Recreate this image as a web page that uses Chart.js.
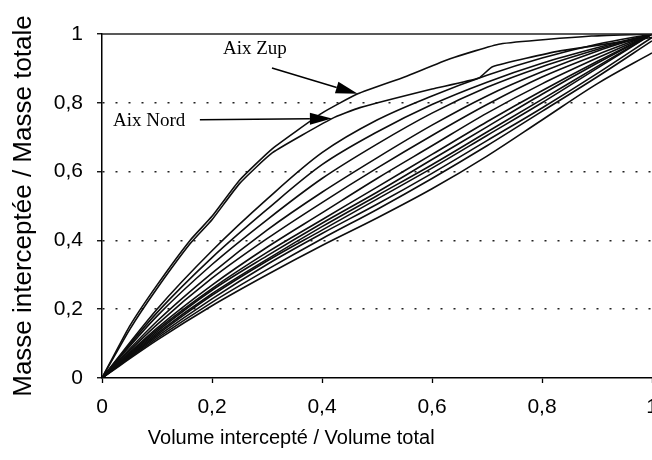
<!DOCTYPE html>
<html><head><meta charset="utf-8">
<script src="https://cdn.jsdelivr.net/npm/chart.js@4.4.1/dist/chart.umd.min.js"></script>
<style>
html,body{margin:0;padding:0;background:#fff;overflow:hidden;width:652px;height:460px}
#wrap{position:absolute;left:0;top:0;width:664px;height:460px}
</style>
</head><body><div id="wrap"><canvas id="c"></canvas></div>
<script>
// ---- data ----
const xTickValues = [0, 0.2, 0.4, 0.6, 0.8, 1];
const xTickLabels = ['0', '0,2', '0,4', '0,6', '0,8', '1'];
const yTickValues = [0, 0.2, 0.4, 0.6, 0.8, 1];
const yTickLabels = ['0', '0,2', '0,4', '0,6', '0,8', '1'];
const xTitle = 'Volume intercepté / Volume total';
const yTitle = 'Masse interceptée / Masse totale';

const zupX  = [0, 0.05, 0.1, 0.16, 0.2, 0.25, 0.31, 0.4, 0.465, 0.55, 0.633, 0.724, 0.89, 1];
const zupY  = [0, 0.15, 0.27, 0.40, 0.47, 0.575, 0.667, 0.77, 0.826, 0.875, 0.928, 0.971, 0.994, 1];
const nordX = [0, 0.05, 0.1, 0.16, 0.2, 0.25, 0.31, 0.418, 0.469, 0.6, 0.685, 0.71, 0.833, 1];
const nordY = [0, 0.14, 0.26, 0.39, 0.46, 0.565, 0.655, 0.754, 0.786, 0.84, 0.872, 0.905, 0.951, 0.99];

const xGrid = [0, 0.1, 0.2, 0.3, 0.4, 0.5, 0.6, 0.7, 0.8, 0.9, 1];
const curveB1 = [0, 0.20, 0.37, 0.52, 0.655, 0.75, 0.82, 0.88, 0.93, 0.97, 1];
const curveB2 = [0, 0.19, 0.35, 0.49, 0.62, 0.715, 0.795, 0.86, 0.915, 0.96, 1];
const curveB3 = [0, 0.18, 0.33, 0.46, 0.58, 0.68, 0.77, 0.845, 0.905, 0.955, 1];
const curveC1 = [0, 0.165, 0.305, 0.43, 0.54, 0.64, 0.735, 0.82, 0.89, 0.95, 1];
const curveC2 = [0, 0.155, 0.29, 0.405, 0.51, 0.61, 0.705, 0.795, 0.875, 0.94, 1];
const curveC3 = [0, 0.145, 0.27, 0.38, 0.48, 0.58, 0.675, 0.77, 0.855, 0.93, 1];
const curveC4 = [0, 0.14, 0.26, 0.365, 0.46, 0.555, 0.65, 0.745, 0.835, 0.92, 1];
const curveD1 = [0, 0.135, 0.255, 0.355, 0.45, 0.54, 0.635, 0.73, 0.825, 0.915, 1];
const curveD2 = [0, 0.13, 0.245, 0.345, 0.44, 0.53, 0.62, 0.715, 0.81, 0.905, 1];
const curveD3 = [0, 0.125, 0.24, 0.34, 0.43, 0.52, 0.61, 0.705, 0.80, 0.90, 1];
const curveD4 = [0, 0.12, 0.23, 0.33, 0.42, 0.505, 0.595, 0.69, 0.785, 0.885, 0.99];
const curveD5 = [0, 0.115, 0.22, 0.315, 0.405, 0.49, 0.58, 0.675, 0.775, 0.875, 0.98];
const curveD6 = [0, 0.11, 0.21, 0.30, 0.385, 0.465, 0.55, 0.645, 0.75, 0.855, 0.945];

const noteLabels = ['Aix Zup', 'Aix Nord'];
// annotation anchors in data units: [textX, textY, arrowFromX, arrowFromY, arrowToX, arrowToY]
const noteAnchors = [
  [0.22, 0.955, 0.309, 0.901, 0.465, 0.826],
  [0.02, 0.748, 0.178, 0.751, 0.418, 0.754]
];

// ---- build ----
const regular = [curveB1, curveB2, curveB3, curveC1, curveC2, curveC3, curveC4,
                 curveD1, curveD2, curveD3, curveD4, curveD5, curveD6];
const lineStyle = { borderColor: '#0d0d0d', borderWidth: 1.6, pointRadius: 0, showLine: true, fill: false };
const datasets = [];
datasets.push(Object.assign({ label: 'Aix Zup', data: zupX.map((x, i) => ({ x, y: zupY[i] })), tension: 0.15 }, lineStyle));
datasets.push(Object.assign({ label: 'Aix Nord', data: nordX.map((x, i) => ({ x, y: nordY[i] })), tension: 0.15 }, lineStyle));
regular.forEach((ys, k) => {
  datasets.push(Object.assign({ label: 'c' + k, data: xGrid.map((x, i) => ({ x, y: ys[i] })), cubicInterpolationMode: 'monotone' }, lineStyle));
});

const FONT = 'Liberation Sans, Arial, sans-serif';

const decor = {
  id: 'decor',
  afterDraw(chart) {
    const { ctx, chartArea, scales: { x, y } } = chart;
    ctx.save();
    // top frame line at y = 1
    ctx.strokeStyle = '#222';
    ctx.lineWidth = 1.5;
    ctx.beginPath();
    ctx.moveTo(chartArea.left, y.getPixelForValue(1));
    ctx.lineTo(chartArea.right, y.getPixelForValue(1));
    ctx.stroke();
    // x title
    ctx.fillStyle = '#000';
    ctx.font = '20px ' + FONT;
    ctx.textAlign = 'center';
    ctx.textBaseline = 'middle';
    ctx.fillText(xTitle, x.getPixelForValue(0.344), chartArea.bottom + 60);
    // annotations
    ctx.font = '19px "Liberation Serif", "Times New Roman", serif';
    ctx.textAlign = 'left';
    noteLabels.forEach((lab, i) => {
      const a = noteAnchors[i];
      ctx.fillStyle = '#000';
      ctx.fillText(lab, x.getPixelForValue(a[0]), y.getPixelForValue(a[1]));
      const x1 = x.getPixelForValue(a[2]), y1 = y.getPixelForValue(a[3]);
      const x2 = x.getPixelForValue(a[4]), y2 = y.getPixelForValue(a[5]);
      const ang = Math.atan2(y2 - y1, x2 - x1);
      const hl = 22, hw = 6;
      const bx = x2 - hl * Math.cos(ang), by = y2 - hl * Math.sin(ang);
      ctx.strokeStyle = '#000';
      ctx.lineWidth = 1.5;
      ctx.beginPath();
      ctx.moveTo(x1, y1);
      ctx.lineTo(bx, by);
      ctx.stroke();
      ctx.beginPath();
      ctx.moveTo(x2, y2);
      ctx.lineTo(bx + hw * Math.sin(ang), by - hw * Math.cos(ang));
      ctx.lineTo(bx - hw * Math.sin(ang), by + hw * Math.cos(ang));
      ctx.closePath();
      ctx.fill();
    });
    ctx.restore();
  }
};

new Chart(document.getElementById('c'), {
  type: 'scatter',
  data: { datasets },
  options: {
    responsive: true,
    maintainAspectRatio: false,
    animation: false,
    layout: { padding: { left: 0, right: 12, top: 34, bottom: 0 } },
    plugins: { legend: { display: false }, tooltip: { enabled: false } },
    scales: {
      x: {
        type: 'linear', min: 0, max: 1, position: 'bottom',
        afterBuildTicks: s => { s.ticks = xTickValues.map(v => ({ value: v })); },
        afterFit: s => { s.height = 82; s.paddingLeft = 0; s.paddingRight = 0; },
        ticks: { callback: (v, i) => xTickLabels[i], font: { family: FONT, size: 21 }, color: '#000', padding: 12, maxRotation: 0, autoSkip: false },
        grid: { drawOnChartArea: false, drawTicks: true, tickLength: 5, tickColor: '#000', tickWidth: 1.3 },
        border: { display: true, color: '#000', width: 1.5 }
      },
      y: {
        type: 'linear', min: 0, max: 1, position: 'left',
        afterBuildTicks: s => { s.ticks = yTickValues.map(v => ({ value: v })); },
        afterFit: s => { s.width = 102; s.paddingTop = 0; s.paddingBottom = 0; },
        ticks: { callback: (v, i) => yTickLabels[i], font: { family: FONT, size: 21 }, color: '#000', padding: 14, autoSkip: false },
        grid: {
          color: c => (c.tick && (c.tick.value === 0 || c.tick.value === 1)) ? 'rgba(0,0,0,0)' : '#222',
          lineWidth: 1.5, drawTicks: true, tickLength: 5, tickColor: '#000', tickWidth: 1.3
        },
        border: { display: true, color: '#000', width: 1.5, dash: [2, 11] },
        title: { display: true, text: yTitle, font: { family: FONT, size: 26 }, color: '#000', padding: { top: 8, bottom: 0 } }
      }
    }
  },
  plugins: [decor]
});
</script>
</body></html>
